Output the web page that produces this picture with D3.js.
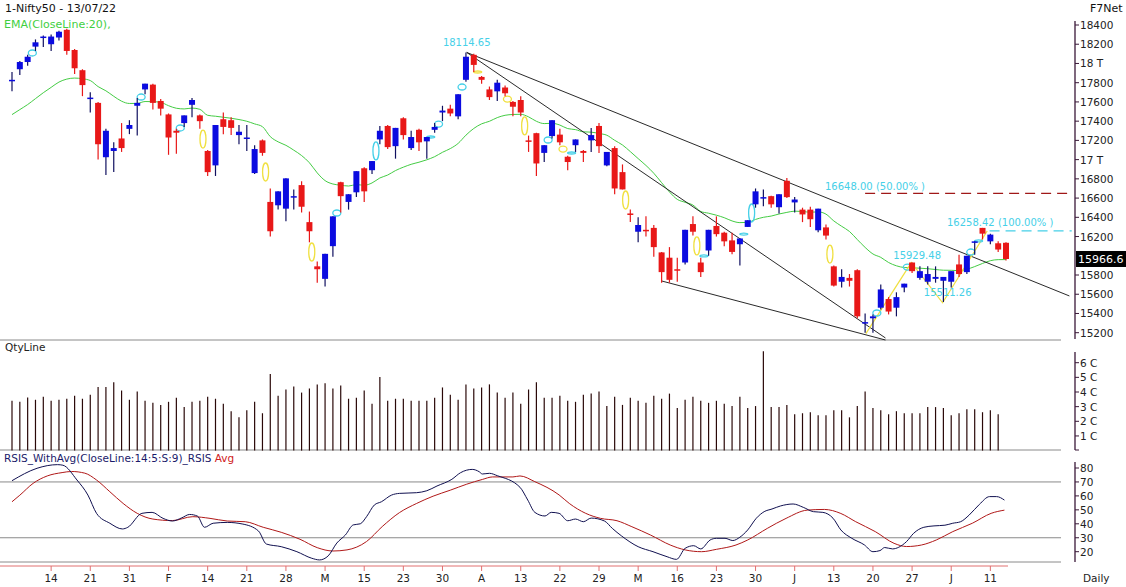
<!DOCTYPE html>
<html><head><meta charset="utf-8">
<script src="https://cdn.jsdelivr.net/npm/d3@7"></script>
<style>body{margin:0;background:#fff}svg{display:block;font-family:"DejaVu Sans",Verdana,sans-serif}</style>
</head><body><svg id="c" width="1126" height="587"></svg>
<script>
// ---------- DATA ----------
const ohlc = [
[17830,17910,17710,17830],[17940,18025,17880,18015],[18015,18090,17975,18070],[18175,18250,18130,18220],
[18270,18290,18170,18280],[18200,18300,18130,18280],[18270,18340,18240,18330],[18350,18360,18090,18130],
[18140,18150,17890,17950],[17930,17940,17660,17775],[17630,17700,17490,17645],[17590,17600,17000,17160],
[17025,17320,16840,17300],[17090,17180,16870,17120],[17220,17380,17080,17120],[17320,17410,17265,17360],
[17560,17640,17250,17590],[17730,17790,17680,17790],[17780,17790,17520,17590],[17610,17630,17460,17530],
[17470,17480,17050,17230],[17300,17320,17060,17280],[17380,17460,17340,17460],[17570,17640,17440,17620],
[17460,17470,17320,17400],[17090,17100,16830,16870],[16940,17360,16830,17360],[17420,17490,17265,17340],
[17410,17440,17255,17330],[17255,17360,17160,17290],[17220,17360,17090,17230],[16860,17150,16850,17110],
[17200,17210,17040,17070],[16560,16700,16200,16255],[16525,16670,16480,16670],[16490,16805,16360,16805],
[16610,16690,16480,16620],[16735,16775,16450,16510],[16350,16460,16140,16255],[15890,15940,15720,15860],
[15760,16020,15680,16020],[16100,16410,15990,16410],[16765,16770,16450,16620],[16560,16640,16480,16640],
[16660,16880,16610,16880],[16910,16920,16560,16670],[16890,16985,16850,16985],[17210,17350,17160,17300],
[17350,17360,17110,17130],[17140,17330,17010,17330],[17430,17440,17210,17255],[17120,17300,17100,17235],
[17310,17320,17090,17180],[17190,17235,17010,17235],[17310,17380,17280,17340],[17490,17560,17400,17510],
[17530,17570,17450,17480],[17450,17680,17420,17680],[17830,18115,17810,18070],[18090,18100,17910,17985],
[17860,17870,17790,17830],[17730,17760,17620,17650],[17710,17830,17610,17800],[17750,17770,17660,17690],
[17600,17610,17450,17550],[17620,17660,17450,17490],[17200,17250,17080,17190],[17275,17280,16830,16960],
[17070,17150,16975,17150],[17245,17410,17220,17410],[17260,17320,17150,17180],[17030,17040,16890,16975],
[17150,17210,17080,17210],[17090,17100,16975,17070],[17200,17330,17080,17255],[17350,17380,17070,17140],
[16940,17080,16930,17080],[17120,17140,16640,16700],[16870,16950,16690,16690],[16440,16480,16350,16430],
[16250,16400,16140,16320],[16270,16410,16200,16260],[16290,16320,15990,16090],[16035,16040,15720,15830],
[15980,16090,15720,15750],[15860,15980,15730,15850],[15930,16270,15910,16270],[16330,16410,16210,16250],
[15930,15980,15780,15830],[16055,16270,16000,16270],[16310,16410,16200,16225],[16240,16250,16100,16150],
[16160,16240,16015,16040],[16120,16180,15900,16180],[16300,16370,16300,16370],[16535,16700,16500,16670],
[16600,16690,16515,16610],[16620,16625,16500,16535],[16505,16640,16440,16640],[16780,16810,16600,16610],
[16555,16610,16450,16585],[16480,16500,16350,16430],[16480,16510,16300,16380],[16265,16490,16245,16490],
[16295,16325,16170,16210],[15890,15900,15680,15690],[15730,15860,15670,15780],[15770,15810,15680,15740],
[15850,15860,15350,15370],[15300,15400,15200,15310],[15350,15390,15200,15370],[15460,15700,15440,15650],
[15550,15570,15390,15420],[15460,15620,15370,15570],[15670,15710,15620,15710],[15930,15930,15820,15840],
[15770,15890,15750,15840],[15730,15890,15700,15810],[15760,15890,15720,15780],[15740,15780,15520,15780],
[15730,15840,15670,15840],[15910,16010,15780,15810],[15830,16000,15810,16000],[16140,16150,16010,16150],
[16290,16290,16170,16230],[16150,16230,16120,16220],[16130,16150,16040,16065],[16135,16140,15950,15966.6]
];
const emaSeed = 17430;
const volume = [3.40,3.33,3.63,3.47,3.68,3.40,3.47,3.54,3.75,3.54,3.82,4.34,4.34,4.66,4.10,3.47,4.03,3.40,3.26,3.12,
3.33,3.61,2.97,3.33,3.40,3.68,3.54,3.19,2.69,2.27,2.76,3.33,2.55,5.23,3.75,4.17,4.38,3.96,4.24,4.52,
4.59,4.24,4.45,3.54,3.61,4.10,3.19,5.02,3.40,3.54,3.54,3.40,3.40,3.40,3.61,4.31,3.82,3.47,4.52,4.24,
4.31,4.52,3.96,3.61,3.96,3.19,4.17,4.66,3.61,3.61,3.75,3.40,3.33,3.82,3.89,4.03,3.04,3.68,3.12,3.61,
3.40,3.26,3.75,3.54,3.89,2.90,3.47,3.68,3.40,3.26,3.40,3.19,3.04,3.68,2.90,3.04,6.78,2.97,2.97,3.12,
2.48,2.55,2.62,2.41,2.41,2.76,2.76,2.27,3.04,4.03,2.90,2.76,2.48,2.69,2.55,2.55,2.55,2.97,2.97,2.90,
2.41,2.55,2.83,2.83,2.62,2.76,2.48];
const rsiS = [[0,70.9],[3.2,79.8],[5.8,82.4],[6.5,82],[8.3,71.4],[9.7,60.6],[10.8,47.5],[12.5,40.4],[14.1,36.3],[14.8,37.5],
[16.6,47.5],[17.9,48.2],[19.3,43.9],[20.5,42],[21.7,44.3],[22.7,46.7],[23.7,45.5],[24.6,37.5],[25.7,40.4],[27.5,41],
[29.5,39.8],[31.5,34.8],[32.5,25.5],[34.4,23.6],[36.4,20],[38.3,15.3],[39.3,14.1],[40.4,17],[41.5,26.2],[42.6,32],
[43.6,39.2],[44.5,40],[45.3,45.1],[46.3,53.5],[47.2,55.8],[48.5,60.6],[49.5,61.8],[51.7,62.3],[53,63.7],[54.3,67.1],
[56.2,71.9],[57.3,76.6],[58.8,79],[59.7,77.3],[60.1,75.7],[61,76.2],[62,74.5],[64.9,66.2],[65.9,57],[66.8,48.2],
[68.1,45.6],[68.9,48.2],[69.9,47.5],[71,42.2],[72,43.4],[73,41.5],[74,44.1],[75.7,42],[76.7,36.7],[77.9,31.2],
[80,23.6],[81.9,20],[83.7,16.4],[84.9,14.5],[86,22.4],[87.1,24.3],[88,22],[89.2,28.4],[90,29.6],[91.1,29.6],
[92.1,28],[93,30.4],[94,35.6],[95.1,44],[96.1,48.7],[97.1,50.6],[98.2,52.8],[99.8,54.2],[101.1,51.8],[102.4,48.7],
[103.6,48.2],[104.9,44],[105.9,35.6],[107.3,29.6],[108.9,24.9],[110,20],[110.9,20.8],[111.5,23],[112.5,22],[113.3,23.2],
[114.3,27.3],[115.2,33.2],[116.5,37.5],[117.8,38.5],[119.2,39],[120.2,40.4],[121.2,41.5],[122.3,46.3],[123.6,53.9],[124.9,59.5],
[125.8,59.5],[126.8,57]];
const rsiAvg = [[0,55.8],[1,60.5],[2.7,69],[4.5,74.3],[6.4,76.7],[7.6,77.5],[9.3,76.3],[10.8,71.4],[12.5,63],[14.2,54.6],
[16,47.5],[18,43.4],[20.5,42.3],[23.1,45.1],[25.3,43.9],[27.5,42],[29.8,41.5],[32.1,37.5],[34.4,33.9],[36.8,28.9],
[39,22.9],[41,20.5],[42.8,21.3],[45.3,27.3],[47.3,38],[49.5,48],[51.7,54.6],[53.8,59.8],[56,64.1],[58.1,68.4],
[60.1,71.8],[61.4,73.6],[64,73.6],[64.9,74.3],[66.8,70.2],[69.9,60.7],[71.2,54.6],[73.3,47.5],[75.2,43.9],[77.3,42.2],
[79.2,37.9],[81.6,31.9],[84.1,24.8],[86,21.3],[88.1,20],[90,21.7],[92.5,24.8],[94,28.4],[96.5,36.7],[98.9,43.9],
[101.6,49.8],[103.8,50.3],[105.9,47.4],[107.8,41.5],[110.3,34.4],[112.7,26],[114.3,23.7],[116.2,24.8],[118.1,28.4],[120.2,34.4],
[122.7,40.4],[125.1,47.5],[126.8,49.8]];
const xLabels = ["14","21","31","F","14","21","28","M","15","23","30","A","13","22","29","M","16","23","30","J","13","20","27","J","11"];
const xLabelIdx = [5,10,15,20,25,30,35,40,45,50,55,60,65,70,75,80,85,90,95,100,105,110,115,120,125];
const priceTicks = [15200,15400,15600,15800,16200,16400,16600,16800,17000,17200,17400,17600,17800,18000,18200,18400];
const volTicks = [1,2,3,4,5,6];
const rsiTicks = [20,30,40,50,60,70,80];
const trendLines = [[[58.1,18114.65],[135.1,15582]],[[58.1,18114.65],[111.6,15145]],[[83,15738],[111.6,15124]]];
const zigzag = [[109.1,15190],[114.9,15929.48],[118.9,15511.26],[124.6,16258.42]];
const fib50 = {from:109, to:135.4, price:16648, label:"16648.00 (50.00% )"};
const fib100 = {from:124.9, to:135.4, price:16258.42, label:"16258.42 (100.00% )"};
const priceNotes = [{idx:58.1,price:18114.65,text:"18114.65"},{idx:112.6,price:15905,text:"15929.48"},{idx:116.5,price:15515,text:"15511.26"}];
const markers = [[24.4,17214,"tall","y"],[32.4,16871,"tall","y"],[38.3,16039,"tall","y"],[65.5,17350,"tall","y"],[78.4,16580,"tall","y"],
[87.5,16102,"tall","y"],[104.5,16018,"tall","y"],[70.4,17110,"small","y"],[63.3,17630,"small","y"],[59.5,17911,"dash","y"],
[2.6,18109,"small","c"],[16.5,17651,"small","c"],[21.5,17329,"small","c"],[41.5,16445,"small","c"],[54.5,17370,"small","c"],
[57.5,17755,"small","c"],[68.5,17204,"small","c"],[110.5,15405,"small","c"],[122.5,16039,"small","c"],[46.5,17090,"tall","c"],
[94.5,16445,"tall","c"],[53.5,17235,"dash","c"],[71.5,17069,"dash","c"],[88.4,15998,"dash","c"],[93.5,16226,"dash","c"],
[123.5,16154,"dash","c"],[114.4,15883,"small","c"]];

// ---------- SCALES ----------
const svg = d3.select("#c");
const x = d3.scaleLinear().domain([0,127]).range([12,1006]);
const yP = d3.scaleLinear().domain([15200,18400]).range([332.7,25]);
const yV = d3.scaleLinear().domain([0,6]).range([450.6,362.7]);
const yR = d3.scaleLinear().domain([20,80]).range([551.7,468]);
const BLUE="#0b0be0", RED="#e81818", CYAN="#46d0e8", YEL="#f0e040", GREEN="#44cc44";

[[340,1061],[450,1061],[562,1061]].forEach(([y,x2])=>svg.append("line").attr("x1",0).attr("x2",x2).attr("y1",y).attr("y2",y).attr("stroke","#8a8a8a"));
[70,30].forEach(v=>svg.append("line").attr("x1",0).attr("x2",1061).attr("y1",yR(v)).attr("y2",yR(v)).attr("stroke","#8a8a8a"));

svg.append("text").attr("x",5).attr("y",12).attr("font-size",11).attr("fill","#111").text("1-Nifty50 - 13/07/22");
svg.append("text").attr("x",4).attr("y",28).attr("font-size",11).attr("fill","#3fcf3f").text("EMA(CloseLine:20),");
svg.append("text").attr("x",1090).attr("y",12).attr("font-size",11).attr("fill","#111").text("F7Net");
svg.append("text").attr("x",5).attr("y",351).attr("font-size",10.5).attr("fill","#222").text("QtyLine");
const rl = svg.append("text").attr("x",4).attr("y",462).attr("font-size",10.5);
rl.append("tspan").attr("fill","#1a1a6a").text("RSIS_WithAvg(CloseLine:14:5:S:9)_RSIS ");
rl.append("tspan").attr("fill","#d02020").text("Avg");

const ema=[]; let e=emaSeed; const k=2/21;
ohlc.forEach((d,i)=>{ e = e + k*(d[3]-e); ema.push(e); });
svg.append("path").attr("d",d3.line().x((d,i)=>x(i)).y(d=>yP(d)).curve(d3.curveMonotoneX)(ema)).attr("fill","none").attr("stroke",GREEN).attr("stroke-width",1);

trendLines.forEach(t=>svg.append("line").attr("x1",x(t[0][0])).attr("y1",yP(t[0][1])).attr("x2",x(t[1][0])).attr("y2",yP(t[1][1])).attr("stroke","#111").attr("stroke-width",0.9));
svg.append("path").attr("d",d3.line().x(d=>x(d[0])).y(d=>yP(d[1]))(zigzag)).attr("fill","none").attr("stroke",YEL).attr("stroke-width",1.2);
svg.append("line").attr("x1",x(fib50.from)).attr("x2",x(fib50.to)).attr("y1",yP(fib50.price)).attr("y2",yP(fib50.price)).attr("stroke","#a01818").attr("stroke-width",1.3).attr("stroke-dasharray","10,6");
svg.append("line").attr("x1",x(fib100.from)).attr("x2",x(fib100.to)).attr("y1",yP(fib100.price)).attr("y2",yP(fib100.price)).attr("stroke",CYAN).attr("stroke-width",1.3).attr("stroke-dasharray","10,6");
svg.append("text").attr("x",825).attr("y",yP(fib50.price)-3).attr("font-size",10).attr("fill",CYAN).text(fib50.label);
svg.append("text").attr("x",947).attr("y",yP(fib100.price)-5).attr("font-size",10).attr("fill",CYAN).text(fib100.label);

markers.forEach(m=>{
  const col = m[3]==="y"?YEL:CYAN;
  const [rx,ry] = m[2]==="tall"?[3,9]:m[2]==="small"?[4,3]:[4,1];
  svg.append("ellipse").attr("cx",x(m[0])).attr("cy",yP(m[1])).attr("rx",rx).attr("ry",ry).attr("fill","none").attr("stroke",col).attr("stroke-width",1.3);
});

const cg = svg.append("g");
ohlc.forEach((d,i)=>{
  const [o,h,l,c]=d, up=c>=o, col=up?BLUE:RED, cx=x(i);
  cg.append("line").attr("x1",cx).attr("x2",cx).attr("y1",yP(h)).attr("y2",yP(l)).attr("stroke",up?"#101060":RED).attr("stroke-width",1.2);
  const y1=yP(Math.max(o,c)), y2=yP(Math.min(o,c));
  cg.append("rect").attr("x",cx-3).attr("width",6).attr("y",y1).attr("height",Math.max(1.5,y2-y1)).attr("fill",col);
});
priceNotes.forEach(n=>svg.append("text").attr("x",x(n.idx)).attr("y",yP(n.price)-6).attr("text-anchor",n.text==="18114.65"?"middle":"start").attr("font-size",10).attr("fill",CYAN).text(n.text));

volume.forEach((v,i)=>svg.append("line").attr("x1",x(i)).attr("x2",x(i)).attr("y1",yV(0)).attr("y2",yV(v)).attr("stroke","#2a0808").attr("stroke-width",1.2));

const rl2 = d3.line().x(d=>x(d[0])).y(d=>yR(d[1])).curve(d3.curveMonotoneX);
svg.append("path").attr("d",rl2(rsiAvg)).attr("fill","none").attr("stroke","#b01818").attr("stroke-width",1);
svg.append("path").attr("d",rl2(rsiS)).attr("fill","none").attr("stroke","#101050").attr("stroke-width",1);

const AX=1075, axc="#3a1838";
function axis(y0,y1,ticks,scale,fmt){
  svg.append("line").attr("x1",AX).attr("x2",AX).attr("y1",y0).attr("y2",y1).attr("stroke",axc).attr("stroke-width",1.3);
  ticks.forEach(t=>{const yy=scale(t);
    svg.append("line").attr("x1",AX).attr("x2",AX+4).attr("y1",yy).attr("y2",yy).attr("stroke",axc);
    svg.append("text").attr("x",AX+5).attr("y",yy+4).attr("font-size",10.5).attr("fill","#222").text(fmt(t));});
}
axis(21,339,priceTicks,yP,p=>p%1000===0?(p/1000)+" T":String(p));
axis(352,450,volTicks,yV,v=>v+" C");
svg.append("line").attr("x1",AX).attr("x2",AX+4).attr("y1",450).attr("y2",450).attr("stroke",axc);
axis(462,562,rsiTicks,yR,v=>String(v));
const last = ohlc[ohlc.length-1][3];
svg.append("rect").attr("x",AX+1).attr("y",yP(last)-8).attr("width",52).attr("height",16).attr("fill","#000");
svg.append("text").attr("x",AX+3).attr("y",yP(last)+4).attr("font-size",11).attr("fill","#fff").text(String(last));

svg.append("line").attr("x1",0).attr("x2",1008).attr("y1",566).attr("y2",566).attr("stroke","#e07070");
xLabelIdx.forEach((idx,j)=>{
  svg.append("line").attr("x1",x(idx)).attr("x2",x(idx)).attr("y1",566).attr("y2",571).attr("stroke","#e07070");
  svg.append("text").attr("x",x(idx)).attr("y",582).attr("text-anchor","middle").attr("font-size",10.5).attr("fill","#222").text(xLabels[j]);
});
svg.append("text").attr("x",1083).attr("y",582).attr("font-size",10.5).attr("fill","#222").text("Daily");
</script></body></html>
